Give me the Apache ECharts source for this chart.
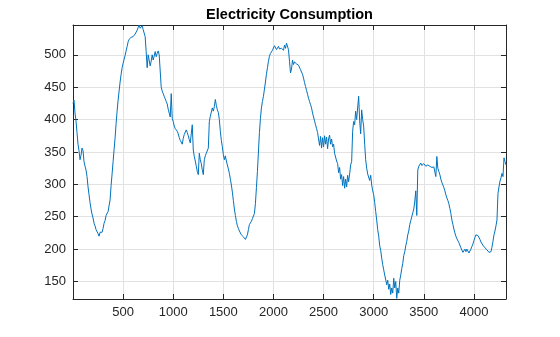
<!DOCTYPE html>
<html><head><meta charset="utf-8">
<script src="https://cdn.jsdelivr.net/npm/echarts@6/dist/echarts.min.js"></script>
<style>html,body{margin:0;padding:0;background:#fff}#c{width:560px;height:337px}</style>
</head><body><div id="c"></div>
<script>
const titleText = 'Electricity Consumption';
const xStep = 10;
const consumption = [
425,430,410,398,380,362,352,338,345,356,352,335,328,322,312,296,284,272,262,254,
248,240,236,230,228,224,220,226,229,226,232,240,244,252,254,258,260,276,298,316,
335,354,372,394,413,430,444,458,470,480,487,493,499,506,513,520,524,526,527,530,
528,531,532,535,538,542,546,541,540,545,539,536,528,505,480,500,498,483,490,500,
492,498,505,497,502,506,500,498,450,444,440,436,432,428,424,416,410,404,440,402,
397,390,386,383,382,378,372,368,366,362,371,377,379,384,380,375,369,364,361,392,
353,343,336,328,320,315,348,338,332,322,315,338,344,348,351,356,397,405,402,418,
413,420,431,422,415,411,400,382,368,358,346,338,344,336,330,324,317,308,299,288,
275,262,252,243,236,232,228,225,222,221,219,217,215,218,222,230,238,241,243,247,
250,255,270,295,320,350,380,402,418,428,436,447,458,470,480,490,498,502,505,507,
510,514,512,508,511,513,509,506,510,508,507,515,510,518,515,508,490,472,478,492,
485,489,490,486,487,484,482,477,475,470,464,457,451,445,439,433,428,423,418,410,
404,398,392,386,380,370,360,374,356,372,358,375,362,373,355,370,376,362,370,358,
362,348,350,336,332,318,326,308,315,298,312,294,308,296,314,304,316,330,335,382,
397,392,413,400,397,436,398,378,415,400,390,362,338,325,316,318,306,314,299,290,
284,272,258,245,230,220,205,198,186,176,168,160,158,145,152,138,146,130,140,132,
155,140,150,124,140,132,152,160,170,178,190,196,205,212,222,228,238,244,250,256,
262,274,290,252,322,328,330,333,329,331,332,330,328,331,330,327,328,330,326,328,
327,324,312,343,325,320,315,308,303,299,295,290,284,279,275,270,263,255,245,238,
231,225,220,216,213,210,207,202,199,195,197,200,196,200,197,194,197,200,204,208,
213,218,222,223,221,218,215,211,208,206,204,202,201,199,197,195,193,196,203,212,
222,228,236,245,286,296,305,310,317,312,341,335,330
];
const xTicks = [500,1000,1500,2000,2500,3000,3500,4000];
const yTicks = [150,200,250,300,350,400,450,500];
const xMin = 0, xMax = 4320, yMin = 123, yMax = 546;

const data = consumption.map((v, i) => [i * xStep, v]);
const chart = echarts.init(document.getElementById('c'), null, {renderer: 'canvas'});
const axisColor = '#262626';
const gridColor = '#e2e2e2';
const font = '"Liberation Sans", Arial, Helvetica, sans-serif';

function frameAxis(pos, isMain, ticks, isX) {
  return {
    type: 'value', min: isX ? xMin : yMin, max: isX ? xMax : yMax, position: pos,
    axisLine: {show: true, onZero: false, lineStyle: {color: axisColor, width: 1}},
    axisTick: {show: true, inside: true, length: 5, customValues: ticks, lineStyle: {color: axisColor, width: 1}},
    axisLabel: {show: isMain, customValues: ticks, color: axisColor, fontSize: 13, margin: 7,
                fontFamily: font, formatter: v => String(v)},
    splitLine: {show: isMain, lineStyle: {color: gridColor, width: 1}}
  };
}

chart.setOption({
  animation: false,
  grid: {left: 73, right: 54, top: 25, bottom: 38, containLabel: false},
  xAxis: [frameAxis('bottom', true, xTicks, true), frameAxis('top', false, xTicks, true)],
  yAxis: [frameAxis('left', true, yTicks, false), frameAxis('right', false, yTicks, false)],
  graphic: [{
    type: 'text', x: 289.5, y: 15,
    style: {text: titleText, textAlign: 'center', textVerticalAlign: 'middle',
            font: 'bold 14.5px "Liberation Sans", Arial, sans-serif', fill: '#000'}
  }],
  series: [{
    type: 'line', data: data, showSymbol: false, xAxisIndex: 0, yAxisIndex: 0,
    lineStyle: {color: '#0072BD', width: 1}, clip: true
  }]
});
</script></body></html>
